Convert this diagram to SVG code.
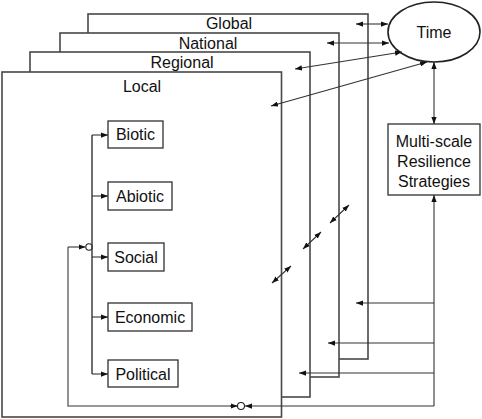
<svg xmlns="http://www.w3.org/2000/svg" width="482" height="419" viewBox="0 0 482 419">
<style>
.frame{fill:#fff;stroke:#484848;stroke-width:1.6}
.box{fill:#fff;stroke:#303030;stroke-width:1.3}
.t{font-family:"Liberation Sans",Arial,sans-serif;font-size:16px;fill:#111;text-anchor:middle}
.ln{fill:none;stroke:#333;stroke-width:1.1}
.lg{fill:none;stroke:#777;stroke-width:1.6}
</style>
<defs>
<marker id="ah" viewBox="0 0 8 6" refX="8" refY="3" markerWidth="7" markerHeight="5.5" markerUnits="userSpaceOnUse" orient="auto-start-reverse">
<path d="M0,0 L8,3 L0,6 Z" fill="#111"/>
</marker>
</defs>
<g id="global"><rect class="frame" x="88" y="14" width="280" height="345"/><text class="t" x="229" y="29">Global</text></g>
<g id="national"><rect class="frame" x="60" y="33" width="279" height="344"/><text class="t" x="208" y="49">National</text></g>
<g id="regional"><rect class="frame" x="30" y="52" width="280" height="345"/><text class="t" x="182" y="68">Regional</text></g>
<g id="local"><rect class="frame" x="2" y="72" width="279.5" height="345"/><text class="t" x="142" y="92">Local</text></g>
<g id="time"><ellipse cx="434" cy="32" rx="46" ry="30" fill="#fff" stroke="#222" stroke-width="1.6"/><text class="t" x="434" y="38">Time</text></g>
<g id="strategies"><rect class="box" x="388" y="124" width="92" height="71"/><text class="t" x="434" y="147">Multi-scale</text><text class="t" x="434" y="167">Resilience</text><text class="t" x="434" y="187">Strategies</text></g>
<g id="biotic"><rect class="box" x="108" y="121" width="55" height="27"/><text class="t" x="135.5" y="140">Biotic</text></g>
<g id="abiotic"><rect class="box" x="108" y="182" width="64" height="28"/><text class="t" x="140" y="202">Abiotic</text></g>
<g id="social"><rect class="box" x="108" y="243" width="56" height="28"/><text class="t" x="136" y="263">Social</text></g>
<g id="economic"><rect class="box" x="108" y="303" width="84" height="28"/><text class="t" x="150" y="323">Economic</text></g>
<g id="political"><rect class="box" x="108" y="360" width="70" height="27"/><text class="t" x="143" y="380">Political</text></g>
<g id="connectors">
<line class="ln" x1="356" y1="24" x2="388" y2="24" marker-start="url(#ah)" marker-end="url(#ah)"/>
<line class="ln" x1="327" y1="43" x2="389" y2="43" marker-start="url(#ah)" marker-end="url(#ah)"/>
<line class="ln" x1="295" y1="69" x2="402" y2="52" marker-start="url(#ah)" marker-end="url(#ah)"/>
<line class="ln" x1="271" y1="106" x2="427" y2="62" marker-start="url(#ah)" marker-end="url(#ah)"/>
<line class="ln" x1="434" y1="62" x2="434" y2="124" marker-start="url(#ah)" marker-end="url(#ah)"/>
<line class="ln" x1="330" y1="223" x2="349" y2="205" marker-start="url(#ah)" marker-end="url(#ah)"/>
<line class="ln" x1="303" y1="249" x2="321" y2="232" marker-start="url(#ah)" marker-end="url(#ah)"/>
<line class="ln" x1="272" y1="283" x2="291" y2="266" marker-start="url(#ah)" marker-end="url(#ah)"/>
<line class="ln" x1="434" y1="406" x2="434" y2="195" marker-end="url(#ah)"/>
<line class="ln" x1="434" y1="303" x2="356" y2="303" marker-end="url(#ah)"/>
<line class="ln" x1="434" y1="343" x2="328" y2="343" marker-end="url(#ah)"/>
<line class="ln" x1="434" y1="373" x2="299" y2="373" marker-end="url(#ah)"/>
<line class="ln" x1="434" y1="406" x2="245" y2="406" marker-end="url(#ah)"/>
<circle cx="241" cy="406" r="3.5" fill="#fff" stroke="#222" stroke-width="1.1"/>
<path class="lg" d="M68,247 L68,406 L237,406"/>
<line class="ln" x1="230" y1="406" x2="237.5" y2="406" marker-end="url(#ah)"/>
<line class="ln" x1="68" y1="247" x2="85.5" y2="247" marker-end="url(#ah)"/>
<circle cx="89" cy="247" r="3.2" fill="#fff" stroke="#222" stroke-width="1.1"/>
<line class="ln" x1="92" y1="135" x2="92" y2="374" style="stroke-width:1.4"/>
<line class="ln" x1="92" y1="135" x2="108" y2="135" marker-end="url(#ah)"/>
<line class="ln" x1="92" y1="196" x2="108" y2="196" marker-end="url(#ah)"/>
<line class="ln" x1="92" y1="257" x2="108" y2="257" marker-end="url(#ah)"/>
<line class="ln" x1="92" y1="317" x2="108" y2="317" marker-end="url(#ah)"/>
<line class="ln" x1="92" y1="374" x2="108" y2="374" marker-end="url(#ah)"/>
</g>
</svg>
